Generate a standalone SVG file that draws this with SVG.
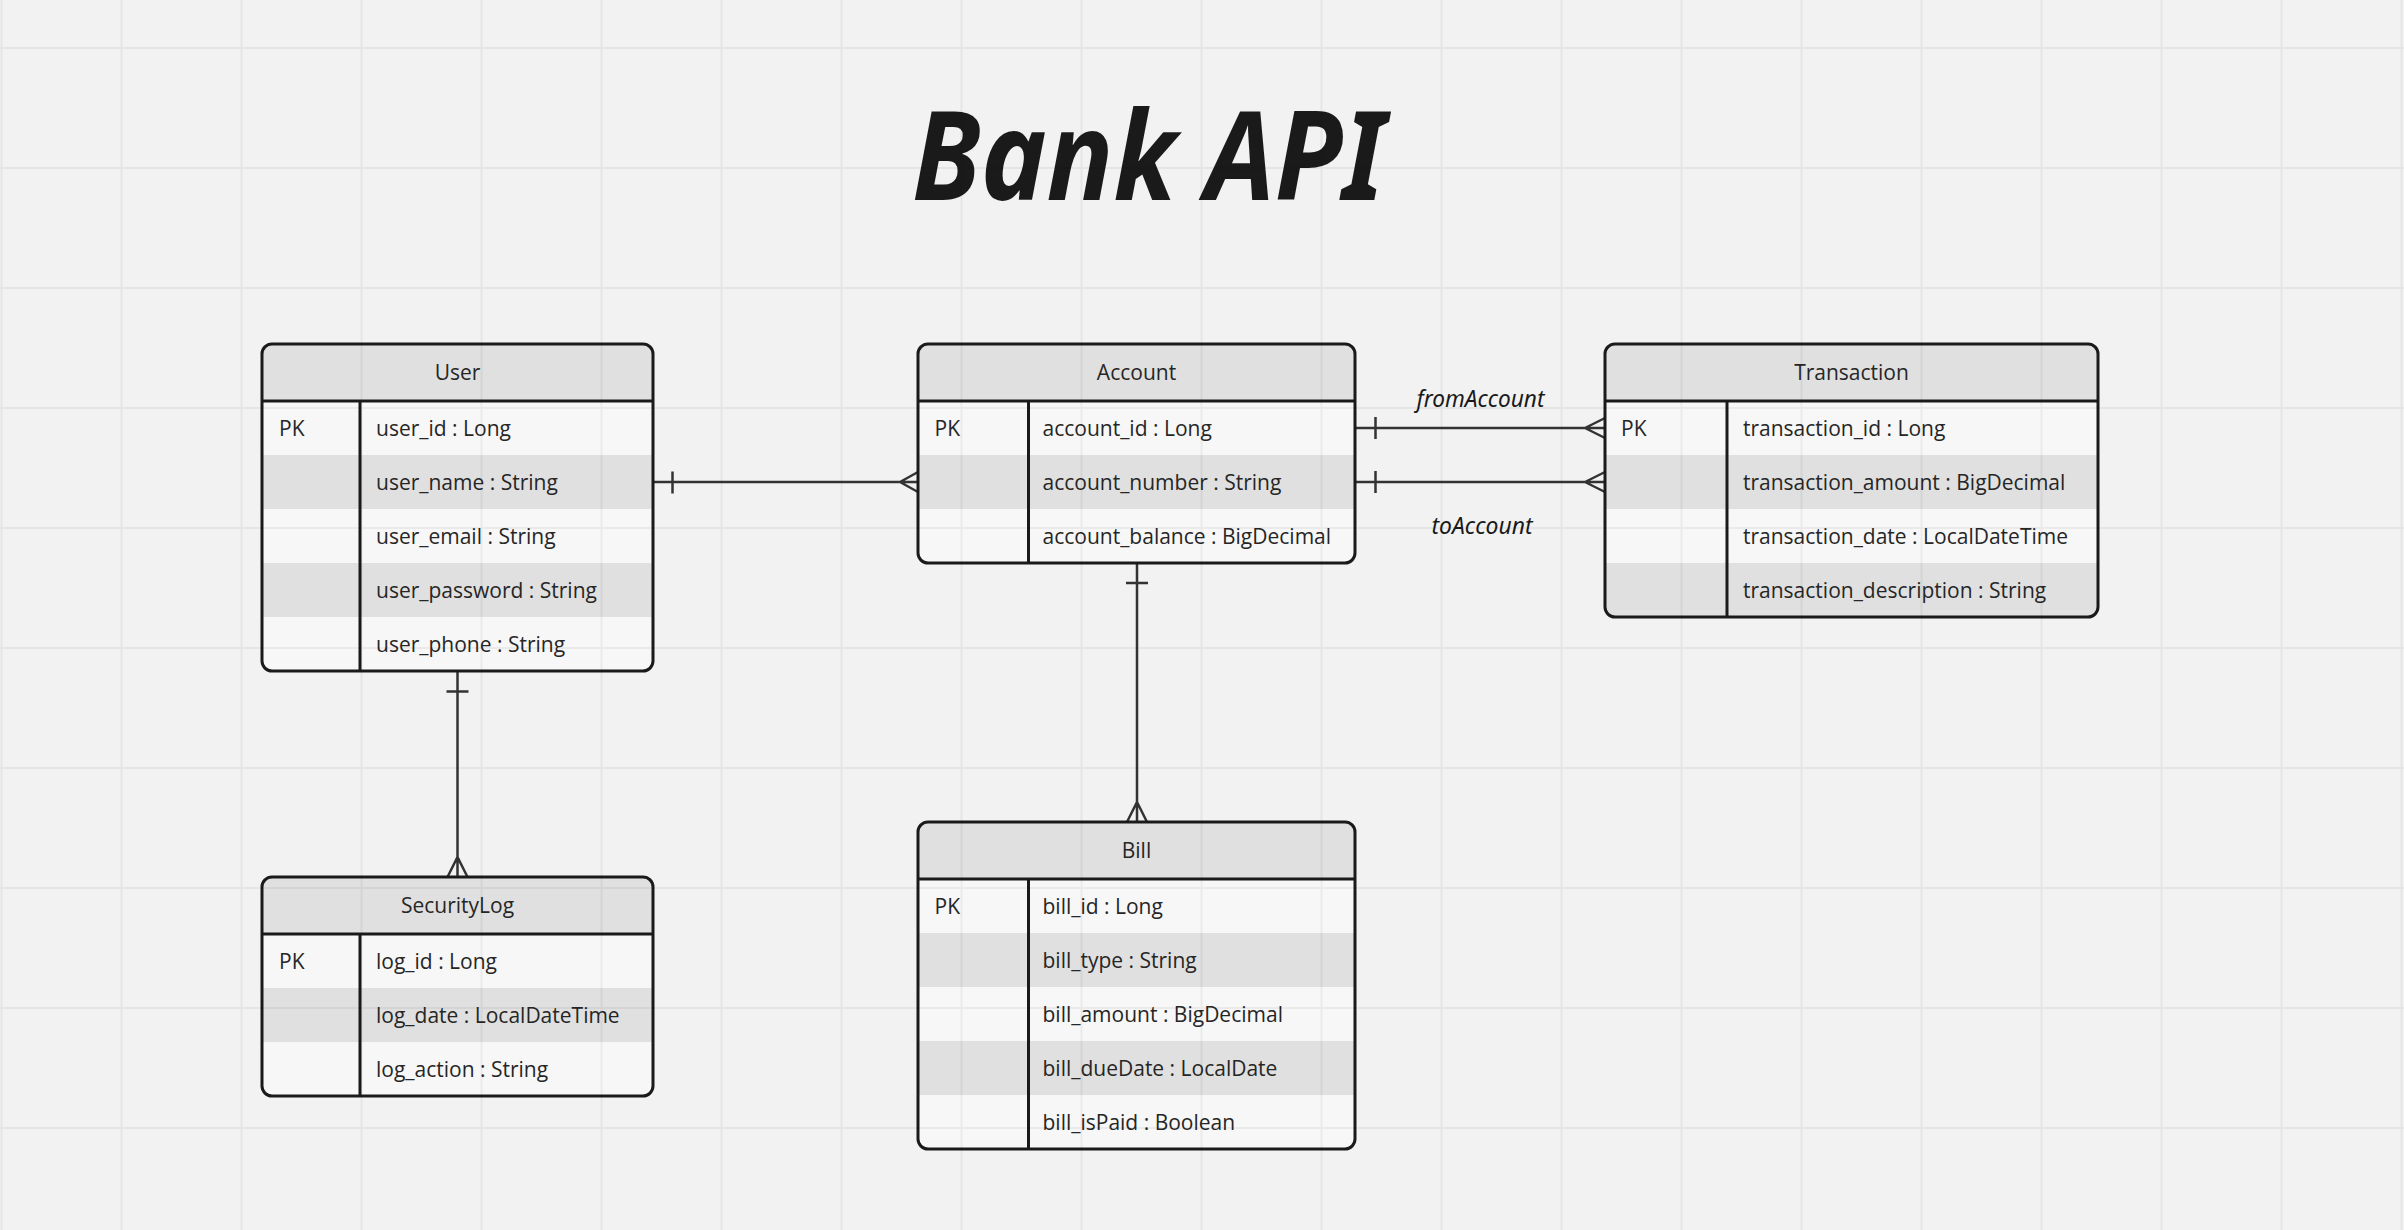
<svg xmlns="http://www.w3.org/2000/svg" width="2404" height="1230" viewBox="0 0 2404 1230">
<style>
.bg{fill:#f2f2f2}
.grid{fill:none;stroke:#000;stroke-opacity:0.05;stroke-width:2}
.lt{fill:#f7f7f7}
.dk{fill:#e0e0e0}
.frame{fill:none;stroke:#1a1a1a;stroke-width:3}
.sep{stroke:#1a1a1a;stroke-width:3}
.t{font-family:"Open Sans","Noto Sans",sans-serif;font-size:21px;fill:#262626}
.h{text-anchor:middle}
.conn{fill:none;stroke:#333;stroke-width:2.5}
.lbl{font-family:"Noto Sans","DejaVu Sans",sans-serif;font-style:italic;font-size:23px;fill:#1a1a1a}
.title{font-family:"Noto Sans","DejaVu Sans",sans-serif;font-style:italic;font-weight:700;font-size:124px;fill:#1a1a1a}
</style>
<defs>
<clipPath id="cU"><rect x="262" y="344" width="391" height="327" rx="10"/></clipPath>
<clipPath id="cA"><rect x="918" y="344" width="437" height="219" rx="10"/></clipPath>
<clipPath id="cT"><rect x="1605" y="344" width="493" height="273" rx="10"/></clipPath>
<clipPath id="cS"><rect x="262" y="877" width="391" height="219" rx="10"/></clipPath>
<clipPath id="cB"><rect x="918" y="822" width="437" height="327" rx="10"/></clipPath>
</defs>
<rect class="bg" x="0" y="0" width="2404" height="1230"/>

<text id="title" class="title" x="912" y="200" textLength="473" lengthAdjust="spacingAndGlyphs">Bank API</text>

<g id="connectors">
<path class="conn" d="M653 482H918 M672.5 471.5V493.5 M900 482L918 472 M900 482L918 492"/>
<path class="conn" d="M1355 428H1605 M1375.5 417V439 M1585 428L1605 418 M1585 428L1605 438"/>
<path class="conn" d="M1355 482H1605 M1375.5 471V493 M1585 482L1605 472 M1585 482L1605 492"/>
<path class="conn" d="M1137 563V822 M1126 583H1148 M1137 802L1127 822 M1137 802L1147 822"/>
<path class="conn" d="M457.5 671V877 M446.5 691.5H468.5 M457.5 857L447.5 877 M457.5 857L467.5 877"/>
<text class="lbl" x="1416.5" y="407" textLength="128" lengthAdjust="spacingAndGlyphs">fromAccount</text>
<text class="lbl" x="1431.5" y="534" textLength="101" lengthAdjust="spacingAndGlyphs">toAccount</text>
</g>

<g id="User">
<g clip-path="url(#cU)">
<rect class="lt" x="262" y="344" width="391" height="327"/>
<rect class="dk" x="262" y="344" width="391" height="57"/>
<rect class="dk" x="262" y="455" width="391" height="54"/>
<rect class="dk" x="262" y="563" width="391" height="54"/>
</g>
<line class="sep" x1="262" y1="401" x2="653" y2="401"/>
<line class="sep" x1="360" y1="401" x2="360" y2="671"/>
<rect class="frame" x="262" y="344" width="391" height="327" rx="10"/>
<text class="t h" x="457.5" y="380">User</text>
<text class="t" x="279" y="435.5">PK</text>
<text class="t" x="376" y="435.5">user_id : Long</text>
<text class="t" x="376" y="489.5">user_name : String</text>
<text class="t" x="376" y="543.5">user_email : String</text>
<text class="t" x="376" y="597.5">user_password : String</text>
<text class="t" x="376" y="651.5">user_phone : String</text>
</g>

<g id="Account">
<g clip-path="url(#cA)">
<rect class="lt" x="918" y="344" width="437" height="219"/>
<rect class="dk" x="918" y="344" width="437" height="57"/>
<rect class="dk" x="918" y="455" width="437" height="54"/>
</g>
<line class="sep" x1="918" y1="401" x2="1355" y2="401"/>
<line class="sep" x1="1028.5" y1="401" x2="1028.5" y2="563"/>
<rect class="frame" x="918" y="344" width="437" height="219" rx="10"/>
<text class="t h" x="1136.5" y="380">Account</text>
<text class="t" x="934.5" y="435.5">PK</text>
<text class="t" x="1042.5" y="435.5">account_id : Long</text>
<text class="t" x="1042.5" y="489.5">account_number : String</text>
<text class="t" x="1042.5" y="543.5">account_balance : BigDecimal</text>
</g>

<g id="Transaction">
<g clip-path="url(#cT)">
<rect class="lt" x="1605" y="344" width="493" height="273"/>
<rect class="dk" x="1605" y="344" width="493" height="57"/>
<rect class="dk" x="1605" y="455" width="493" height="54"/>
<rect class="dk" x="1605" y="563" width="493" height="54"/>
</g>
<line class="sep" x1="1605" y1="401" x2="2098" y2="401"/>
<line class="sep" x1="1727" y1="401" x2="1727" y2="617"/>
<rect class="frame" x="1605" y="344" width="493" height="273" rx="10"/>
<text class="t h" x="1851.5" y="380">Transaction</text>
<text class="t" x="1621" y="435.5">PK</text>
<text class="t" x="1743" y="435.5">transaction_id : Long</text>
<text class="t" x="1743" y="489.5">transaction_amount : BigDecimal</text>
<text class="t" x="1743" y="543.5">transaction_date : LocalDateTime</text>
<text class="t" x="1743" y="597.5">transaction_description : String</text>
</g>

<g id="SecurityLog">
<g clip-path="url(#cS)">
<rect class="lt" x="262" y="877" width="391" height="219"/>
<rect class="dk" x="262" y="877" width="391" height="57"/>
<rect class="dk" x="262" y="988" width="391" height="54"/>
</g>
<line class="sep" x1="262" y1="934" x2="653" y2="934"/>
<line class="sep" x1="360" y1="934" x2="360" y2="1096"/>
<rect class="frame" x="262" y="877" width="391" height="219" rx="10"/>
<text class="t h" x="457.5" y="913">SecurityLog</text>
<text class="t" x="279" y="968.5">PK</text>
<text class="t" x="376" y="968.5">log_id : Long</text>
<text class="t" x="376" y="1022.5">log_date : LocalDateTime</text>
<text class="t" x="376" y="1076.5">log_action : String</text>
</g>

<g id="Bill">
<g clip-path="url(#cB)">
<rect class="lt" x="918" y="822" width="437" height="327"/>
<rect class="dk" x="918" y="822" width="437" height="57"/>
<rect class="dk" x="918" y="933" width="437" height="54"/>
<rect class="dk" x="918" y="1041" width="437" height="54"/>
</g>
<line class="sep" x1="918" y1="879" x2="1355" y2="879"/>
<line class="sep" x1="1028.5" y1="879" x2="1028.5" y2="1149"/>
<rect class="frame" x="918" y="822" width="437" height="327" rx="10"/>
<text class="t h" x="1136.5" y="858">Bill</text>
<text class="t" x="934.5" y="913.5">PK</text>
<text class="t" x="1042.5" y="913.5">bill_id : Long</text>
<text class="t" x="1042.5" y="967.5">bill_type : String</text>
<text class="t" x="1042.5" y="1021.5">bill_amount : BigDecimal</text>
<text class="t" x="1042.5" y="1075.5">bill_dueDate : LocalDate</text>
<text class="t" x="1042.5" y="1129.5">bill_isPaid : Boolean</text>
</g>

<path class="grid" d="M1.5 0V1230M121.5 0V1230M241.5 0V1230M361.5 0V1230M481.5 0V1230M601.5 0V1230M721.5 0V1230M841.5 0V1230M961.5 0V1230M1081.5 0V1230M1201.5 0V1230M1321.5 0V1230M1441.5 0V1230M1561.5 0V1230M1681.5 0V1230M1801.5 0V1230M1921.5 0V1230M2041.5 0V1230M2161.5 0V1230M2281.5 0V1230M2401.5 0V1230M0 48H2404M0 168H2404M0 288H2404M0 408H2404M0 528H2404M0 648H2404M0 768H2404M0 888H2404M0 1008H2404M0 1128H2404"/>
</svg>
